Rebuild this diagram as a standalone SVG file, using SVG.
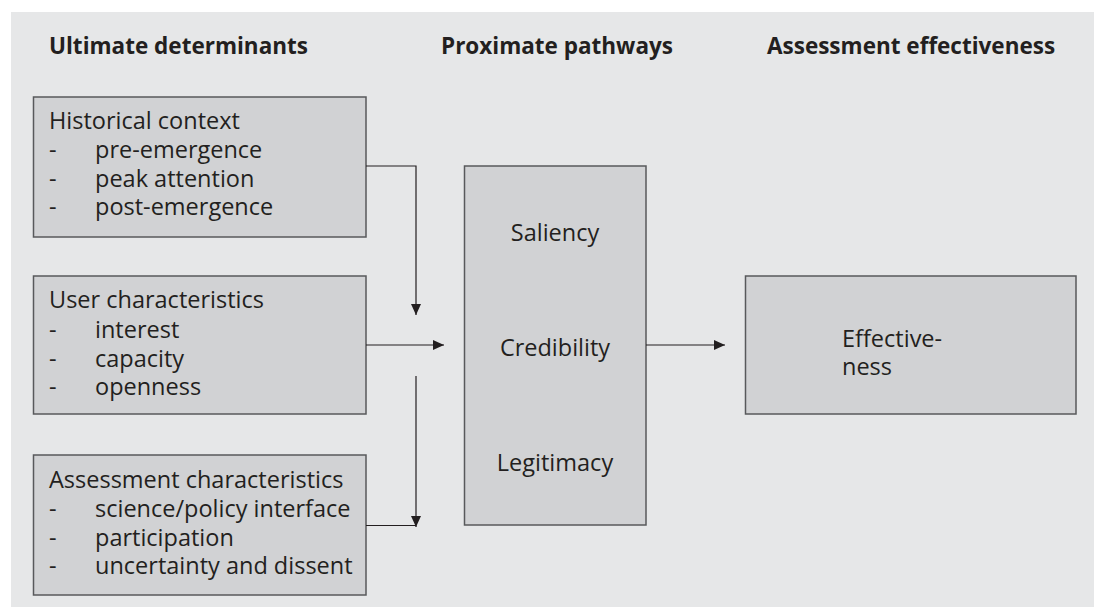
<svg xmlns="http://www.w3.org/2000/svg" width="1094" height="607" viewBox="0 0 1094 607">
<defs>
<marker id="arr" markerWidth="12" markerHeight="10" refX="11" refY="5" orient="auto" markerUnits="userSpaceOnUse">
<path d="M0,0 L11,5 L0,10 Z" fill="#231f20"/>
</marker>
<style>
text{font-family:"Open Sans","Noto Sans","Liberation Sans",sans-serif;fill:#231f20}
.h{font-size:22.5px;font-weight:bold}
.t{font-size:23.5px}
.box{fill:#d1d2d4;stroke:#58595b;stroke-width:1.5}
.c{fill:none;stroke:#231f20;stroke-width:1.2}
</style>
</defs>
<rect x="0" y="0" width="1094" height="607" fill="#ffffff"/>
<rect x="11" y="12" width="1083" height="595" fill="#e6e7e8"/>
<g id="headings">
<text class="h" x="49" y="54">Ultimate determinants</text>
<text class="h" x="441" y="54">Proximate pathways</text>
<text class="h" x="767" y="54">Assessment effectiveness</text>
</g>
<g id="historical">
<rect class="box" x="33.5" y="97" width="332.5" height="140"/>
<text class="t"><tspan x="49" y="129">Historical context</tspan><tspan x="49" y="158">-</tspan><tspan x="95" y="158">pre-emergence</tspan><tspan x="49" y="187">-</tspan><tspan x="95" y="187">peak attention</tspan><tspan x="49" y="215">-</tspan><tspan x="95" y="215">post-emergence</tspan></text>
</g>
<g id="user">
<rect class="box" x="33.5" y="276" width="332.5" height="138"/>
<text class="t"><tspan x="49" y="308">User characteristics</tspan><tspan x="49" y="338">-</tspan><tspan x="95" y="338">interest</tspan><tspan x="49" y="367">-</tspan><tspan x="95" y="367">capacity</tspan><tspan x="49" y="395">-</tspan><tspan x="95" y="395">openness</tspan></text>
</g>
<g id="assessment">
<rect class="box" x="33.5" y="455" width="332.5" height="140"/>
<text class="t"><tspan x="49" y="488">Assessment characteristics</tspan><tspan x="49" y="517">-</tspan><tspan x="95" y="517">science/policy interface</tspan><tspan x="49" y="546">-</tspan><tspan x="95" y="546">participation</tspan><tspan x="49" y="574">-</tspan><tspan x="95" y="574">uncertainty and dissent</tspan></text>
</g>
<g id="pathways">
<rect class="box" x="464.5" y="166" width="181.5" height="359"/>
<text class="t" x="555" y="241" text-anchor="middle">Saliency</text>
<text class="t" x="555" y="356" text-anchor="middle">Credibility</text>
<text class="t" x="555" y="471" text-anchor="middle">Legitimacy</text>
</g>
<g id="effectiveness">
<rect class="box" x="745.5" y="276" width="330.5" height="138"/>
<text class="t"><tspan x="842" y="347">Effective-</tspan><tspan x="842" y="375">ness</tspan></text>
</g>
<g id="connectors">
<path class="c" d="M366,166 H416 V315" marker-end="url(#arr)"/>
<path class="c" d="M366,345 H444" marker-end="url(#arr)"/>
<path class="c" d="M416,376 V527" marker-end="url(#arr)"/>
<path class="c" d="M366,525.5 H416"/>
<path class="c" d="M646,345 H725" marker-end="url(#arr)"/>
</g>
</svg>
